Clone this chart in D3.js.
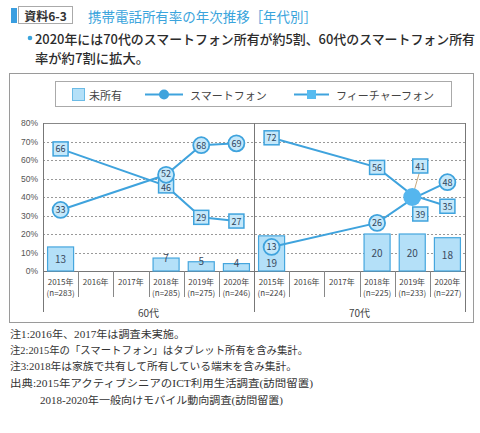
<!DOCTYPE html>
<html><head><meta charset="utf-8">
<script src="https://cdn.jsdelivr.net/npm/d3@7/dist/d3.min.js"></script>
<style>
html,body{margin:0;padding:0;background:#fff;}
svg{display:block;font-family:"Noto Sans CJK JP","Noto Sans",sans-serif;}
</style></head>
<body>
<svg id="chart" width="480" height="433"></svg>
<script>
// ---- data ----
const groups = ["60代", "70代"];
const years = ["2015年", "2016年", "2017年", "2018年", "2019年", "2020年"];
const nLabels60 = ["(n=283)", "", "", "(n=285)", "(n=275)", "(n=246)"];
const nLabels70 = ["(n=224)", "", "", "(n=225)", "(n=233)", "(n=227)"];
const none60 = [13, null, null, 7, 5, 4];
const none70 = [19, null, null, 20, 20, 18];
const smart60 = [33, null, null, 52, 68, 69];
const smart70 = [13, null, null, 26, 39, 48];
const feature60 = [66, null, null, 46, 29, 27];
const feature70 = [72, null, null, 56, 41, 35];
const yTicks = [0, 10, 20, 30, 40, 50, 60, 70, 80];
const legendLabels = ["未所有", "スマートフォン", "フィーチャーフォン"];
const titleTag = "資料6-3";
const titleText = "携帯電話所有率の年次推移［年代別］";
const subtitle1 = "2020年には70代のスマートフォン所有が約5割、60代のスマートフォン所有";
const subtitle2 = "率が約7割に拡大。";
const notes = [
  "注1:2016年、2017年は調査未実施。",
  "注2:2015年の「スマートフォン」はタブレット所有を含み集計。",
  "注3:2018年は家族で共有して所有している端末を含み集計。",
  "出典:2015年アクティブシニアのICT利用生活調査(訪問留置)",
  "2018-2020年一般向けモバイル動向調査(訪問留置)"
];

// ---- build rows ----
const rows = [];
groups.forEach((g, gi) => {
  years.forEach((yr, i) => {
    rows.push({
      key: g + "|" + yr, group: g, year: yr,
      n: (gi === 0 ? nLabels60 : nLabels70)[i],
      none: (gi === 0 ? none60 : none70)[i],
      smart: (gi === 0 ? smart60 : smart70)[i],
      feature: (gi === 0 ? feature60 : feature70)[i]
    });
  });
});

const svg = d3.select("#chart");
const blue = "#3fa3dd";
const lightBlue = "#b4e0f8";

// ---- title ----
svg.append("rect").attr("x", 11).attr("y", 8).attr("width", 6).attr("height", 15).attr("fill", "#3a9ee0");
svg.append("rect").attr("x", 18.5).attr("y", 6.5).attr("width", 54).attr("height", 17).attr("fill", "#fff").attr("stroke", "#aaa");
svg.append("text").attr("x", 45.5).attr("y", 15.5).attr("text-anchor", "middle").attr("dominant-baseline", "central")
  .attr("font-size", 12).attr("font-weight", 700).attr("fill", "#333").text(titleTag);
svg.append("text").attr("x", 88).attr("y", 15.5).attr("dominant-baseline", "central")
  .attr("font-size", 14).attr("fill", "#3aa4dc").attr("textLength", 229).attr("lengthAdjust", "spacingAndGlyphs").text(titleText);

// ---- subtitle ----
svg.append("circle").attr("cx", 30).attr("cy", 38).attr("r", 2.3).attr("fill", "#3aa4dc");
svg.append("text").attr("x", 35).attr("y", 38).attr("dominant-baseline", "central")
  .attr("font-size", 13).attr("font-weight", 500).attr("fill", "#2b2b2b")
  .attr("textLength", 440).attr("lengthAdjust", "spacingAndGlyphs").text(subtitle1);
svg.append("text").attr("x", 35).attr("y", 57).attr("dominant-baseline", "central")
  .attr("font-size", 13).attr("font-weight", 500).attr("fill", "#2b2b2b")
  .attr("textLength", 114).attr("lengthAdjust", "spacingAndGlyphs").text(subtitle2);

// ---- frame ----
svg.append("rect").attr("x", 9.5).attr("y", 73.5).attr("width", 464).attr("height", 249).attr("fill", "#fff").attr("stroke", "#9a9a9a");

// ---- legend ----
const lg = svg.append("g");
lg.append("rect").attr("x", 55.5).attr("y", 81.5).attr("width", 396).attr("height", 25).attr("fill", "#fff").attr("stroke", "#aaa");
lg.append("rect").attr("x", 72.5).attr("y", 88.5).attr("width", 12).attr("height", 12).attr("fill", lightBlue).attr("stroke", "#6bbbe6");
lg.append("text").attr("x", 89).attr("y", 94.5).attr("dominant-baseline", "central").attr("font-size", 11).attr("fill", "#444").text(legendLabels[0]);
lg.append("line").attr("x1", 145).attr("x2", 183).attr("y1", 94.5).attr("y2", 94.5).attr("stroke", blue).attr("stroke-width", 2);
lg.append("circle").attr("cx", 164).attr("cy", 94.5).attr("r", 5).attr("fill", blue);
lg.append("text").attr("x", 190).attr("y", 94.5).attr("dominant-baseline", "central").attr("font-size", 11).attr("fill", "#444").text(legendLabels[1]);
lg.append("line").attr("x1", 294).attr("x2", 329).attr("y1", 94.5).attr("y2", 94.5).attr("stroke", blue).attr("stroke-width", 2);
lg.append("rect").attr("x", 307).attr("y", 90).attr("width", 9).attr("height", 9).attr("fill", "#56bbf0");
lg.append("text").attr("x", 336).attr("y", 94.5).attr("dominant-baseline", "central").attr("font-size", 11).attr("fill", "#444").text(legendLabels[2]);

// ---- scales ----
const x = d3.scaleBand().domain(rows.map(d => d.key)).range([43, 465]).padding(0);
const y = d3.scaleLinear().domain([0, 80]).range([271, 123]);
const bw = x.bandwidth();
const cx = d => x(d.key) + bw / 2;

// gridlines
svg.append("g").selectAll("line").data(yTicks.filter(t => t > 0 && t < 80)).join("line")
  .attr("x1", 43).attr("x2", 465).attr("y1", d => Math.round(y(d)) + 0.5).attr("y2", d => Math.round(y(d)) + 0.5)
  .attr("stroke", "#999").attr("stroke-dasharray", "2,2");

// y axis labels
const yAxis = d3.axisLeft(y).tickValues(yTicks).tickFormat(d => d + "%").tickSize(0).tickPadding(5);
const ya = svg.append("g").attr("transform", "translate(43,0)").call(yAxis);
ya.select(".domain").remove();
ya.selectAll("text").attr("font-size", 8.5).attr("fill", "#555").attr("font-family", "\"Liberation Sans Narrow\",\"Liberation Sans\",sans-serif");

// plot border
svg.append("line").attr("x1", 43).attr("x2", 465).attr("y1", 123.5).attr("y2", 123.5).attr("stroke", "#888");
svg.append("line").attr("x1", 43).attr("x2", 465).attr("y1", 271.5).attr("y2", 271.5).attr("stroke", "#777");
// group boundaries
[0, 6, 12].forEach(i => {
  const xx = i < 12 ? x(rows[i].key) : 465;
  svg.append("line").attr("x1", Math.round(xx) + 0.5).attr("x2", Math.round(xx) + 0.5).attr("y1", 123).attr("y2", 312).attr("stroke", "#777");
});
// year dividers
rows.forEach((d, i) => {
  if (i % 6 === 0) return;
  const xx = Math.round(x(d.key)) + 0.5;
  svg.append("line").attr("x1", xx).attr("x2", xx).attr("y1", 271).attr("y2", 297).attr("stroke", "#888");
});

// x tick labels
const xl = svg.append("g");
xl.selectAll("text.yr").data(rows).join("text").attr("class", "yr")
  .attr("x", cx).attr("y", 281).attr("text-anchor", "middle").attr("dominant-baseline", "central")
  .attr("font-size", 8).attr("fill", "#444").text(d => d.year);
xl.selectAll("text.n").data(rows.filter(d => d.n)).join("text").attr("class", "n")
  .attr("x", cx).attr("y", 292).attr("text-anchor", "middle").attr("dominant-baseline", "central")
  .attr("font-size", 8).attr("fill", "#444").text(d => d.n);
groups.forEach((g, gi) => {
  const first = rows[gi * 6], last = rows[gi * 6 + 5];
  const mid = (x(first.key) + x(last.key) + bw) / 2;
  svg.append("text").attr("x", mid).attr("y", 312).attr("text-anchor", "middle").attr("dominant-baseline", "central")
    .attr("font-size", 10).attr("fill", "#444").text(g);
});

// bars
const barW = bw * 0.74;
const barRows = rows.filter(d => d.none != null);
svg.append("g").selectAll("rect").data(barRows).join("rect")
  .attr("x", d => cx(d) - barW / 2).attr("width", barW)
  .attr("y", d => y(d.none)).attr("height", d => y(0) - y(d.none))
  .attr("fill", lightBlue).attr("stroke", "#45a6de").attr("stroke-width", 1.2);
svg.append("g").selectAll("text").data(barRows).join("text")
  .attr("x", cx).attr("text-anchor", "middle").attr("dominant-baseline", "central")
  .attr("font-size", 10).attr("fill", "#3b4b5e")
  .attr("y", d => {
    if (d.none < 10) return y(d.none) - 1;
    if (d.smart != null && d.smart < d.none) return (y(d.smart) + 8 + y(0)) / 2;
    return y(d.none / 2);
  })
  .text(d => d.none);

// lines
const lineGen = acc => d3.line().x(cx).y(d => y(acc(d)));
groups.forEach(g => {
  const gr = rows.filter(d => d.group === g);
  svg.append("path").datum(gr.filter(d => d.feature != null)).attr("d", lineGen(d => d.feature))
    .attr("fill", "none").attr("stroke", blue).attr("stroke-width", 2);
  svg.append("path").datum(gr.filter(d => d.smart != null)).attr("d", lineGen(d => d.smart))
    .attr("fill", "none").attr("stroke", blue).attr("stroke-width", 2);
});

// markers
const pts = rows.filter(d => d.smart != null);
const mk = svg.append("g");
pts.forEach(d => {
  const X = cx(d), ys = y(d.smart), yf = y(d.feature);
  const close = Math.abs(d.smart - d.feature) < 5;
  if (close) {
    const ym = (ys + yf) / 2;
    mk.append("line").attr("x1", X + 7).attr("y1", ym - 24).attr("x2", X).attr("y2", ym).attr("stroke", "#c9a97c").attr("stroke-width", 1);
    mk.append("circle").attr("cx", X).attr("cy", ym).attr("r", 9).attr("fill", "#55b6ee");
    const hi = Math.max(d.smart, d.feature), lo = Math.min(d.smart, d.feature);
    [[hi, ym - 31], [lo, ym + 17]].forEach(([v, yy]) => {
      mk.append("rect").attr("x", X + 8 - 7.5).attr("y", yy - 7).attr("width", 15).attr("height", 14)
        .attr("fill", "#c5e8fa").attr("stroke", blue).attr("stroke-width", 1.5);
      mk.append("text").attr("x", X + 8).attr("y", yy).attr("text-anchor", "middle").attr("dominant-baseline", "central")
        .attr("font-size", 9).attr("fill", "#2d4560").text(v);
    });
    return;
  }
  // nudge labels apart slightly when the two markers nearly touch
  const near = Math.abs(ys - yf) < 14;
  const dir = ys < yf ? -1 : 1;
  const tys = near ? ys + dir * 1.5 : ys;
  const tyf = near ? yf - dir * 1.5 : yf;
  mk.append("rect").attr("x", X - 7.5).attr("y", yf - 7).attr("width", 15).attr("height", 14)
    .attr("fill", "#c5e8fa").attr("stroke", blue).attr("stroke-width", 1.5);
  mk.append("text").attr("x", X).attr("y", tyf).attr("text-anchor", "middle").attr("dominant-baseline", "central")
    .attr("font-size", 9).attr("fill", "#2d4560").text(d.feature);
  mk.append("circle").attr("cx", X).attr("cy", ys).attr("r", 8)
    .attr("fill", "#c5e8fa").attr("stroke", blue).attr("stroke-width", 1.8);
  mk.append("text").attr("x", X).attr("y", tys).attr("text-anchor", "middle").attr("dominant-baseline", "central")
    .attr("font-size", 9).attr("fill", "#2d4560").text(d.smart);
});

// notes
const noteX = [10, 10, 10, 10, 40];
const noteY = [334, 350, 366, 383, 400];
const noteW = [175, 298, 287, 303, 243];
notes.forEach((t, i) => {
  svg.append("text").attr("x", noteX[i]).attr("y", noteY[i]).attr("dominant-baseline", "central")
    .attr("font-size", 10.5).attr("fill", "#333")
    .attr("font-family", "\"Liberation Serif\",\"Noto Sans CJK JP\",serif")
    .attr("textLength", noteW[i]).attr("lengthAdjust", "spacingAndGlyphs").text(t);
});
</script>
</body></html>
